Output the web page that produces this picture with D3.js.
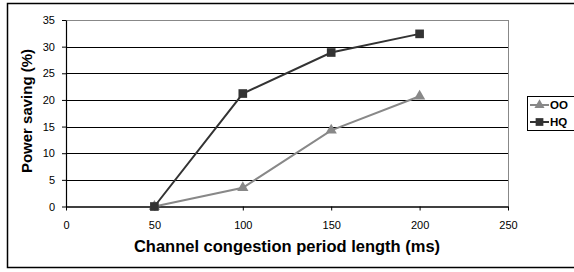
<!DOCTYPE html>
<html>
<head>
<meta charset="utf-8">
<script src="https://cdn.jsdelivr.net/npm/d3@7"></script>
<style>
  body { margin: 0; background: #fff; }
  svg { display: block; font-family: "Liberation Sans", Arial, sans-serif; }
</style>
</head>
<body>
<div id="container"></div>
<script>
const periods = [50, 100, 150, 200];
const ooValues = [0, 3.5, 14.3, 20.7];
const hqValues = [0, 21.2, 28.9, 32.4];
const xTicks = [0, 50, 100, 150, 200, 250];
const yTicks = [0, 5, 10, 15, 20, 25, 30, 35];

const series = [
    { name: "OO", values: ooValues, color: "#888888", symbol: d3.symbolTriangle, size: 55 },
    { name: "HQ", values: hqValues, color: "#333333", symbol: d3.symbolSquare, size: 75 }
];

const width = 574, height = 272;
const mLeft = 66, mRight = 508, mTop = 20, mBottom = 206.5;

const svg = d3.create("svg")
    .attr("width", width)
    .attr("height", height);

// outer frame
svg.append("rect")
    .attr("x", 7.5).attr("y", 3.5)
    .attr("width", 600).attr("height", 264)
    .attr("fill", "#fff")
    .attr("stroke", "#000")
    .attr("stroke-width", 1.5);

const x = d3.scaleLinear().domain([0, 250]).range([mLeft, mRight]);
const y = d3.scaleLinear().domain([0, 35]).range([mBottom, mTop]);

// grid
svg.append("g")
    .selectAll("line")
    .data(yTicks.filter(d => d > 0))
    .join("line")
    .attr("x1", mLeft).attr("x2", mRight)
    .attr("y1", d => Math.round(y(d)) + 0.5).attr("y2", d => Math.round(y(d)) + 0.5)
    .attr("stroke", d => d === 35 ? "#888" : "#000")
    .attr("stroke-width", 1);

// right border of plot
svg.append("line")
    .attr("x1", mRight + 0.5).attr("x2", mRight + 0.5)
    .attr("y1", mTop).attr("y2", mBottom)
    .attr("stroke", "#888");

const yAxis = svg.append("g")
    .attr("transform", `translate(${mLeft},0)`)
    .call(d3.axisLeft(y).tickValues(yTicks).tickSize(4).tickSizeOuter(0));
yAxis.select(".domain").attr("stroke", "#000").attr("stroke-width", 1.2);
yAxis.selectAll("text").attr("font-size", 11).attr("font-family", "Liberation Sans, Arial, sans-serif").attr("dx", -4).attr("fill", "#000");

const xAxis = svg.append("g")
    .attr("transform", `translate(0,${mBottom})`)
    .call(d3.axisBottom(x).tickValues(xTicks).tickSize(4).tickSizeOuter(0));
xAxis.select(".domain").attr("stroke", "#000").attr("stroke-width", 1.5);
xAxis.selectAll("text").attr("font-size", 11).attr("font-family", "Liberation Sans, Arial, sans-serif").attr("dy", "1.4em").attr("fill", "#000");

// titles
svg.append("text")
    .attr("x", 287).attr("y", 252)
    .attr("text-anchor", "middle")
    .attr("font-size", 16.5).attr("font-weight", "bold")
    .text("Channel congestion period length (ms)");

svg.append("text")
    .attr("transform", `translate(32,111) rotate(-90)`)
    .attr("text-anchor", "middle")
    .attr("font-size", 15).attr("font-weight", "bold")
    .text("Power saving (%)");

// lines + markers
const line = d3.line()
    .x((d, i) => x(periods[i]))
    .y(d => y(d));

series.forEach(s => {
    const g = svg.append("g");
    g.append("path")
        .attr("d", line(s.values))
        .attr("fill", "none")
        .attr("stroke", s.color)
        .attr("stroke-width", 2);
    g.selectAll("path.m")
        .data(s.values)
        .join("path")
        .attr("class", "m")
        .attr("transform", (d, i) => `translate(${x(periods[i])},${y(d)})`)
        .attr("d", d3.symbol(s.symbol, s.size))
        .attr("fill", s.color);
});

// legend
const lg = svg.append("g");
lg.append("rect")
    .attr("x", 527.5).attr("y", 96.5)
    .attr("width", 60).attr("height", 34)
    .attr("fill", "#fff")
    .attr("stroke", "#000");
series.forEach((s, i) => {
    const ly = 105 + i * 17;
    lg.append("line")
        .attr("x1", 530).attr("x2", 549)
        .attr("y1", ly).attr("y2", ly)
        .attr("stroke", s.color).attr("stroke-width", 2);
    lg.append("path")
        .attr("transform", `translate(539.5,${ly})`)
        .attr("d", d3.symbol(s.symbol, s.size * 0.8))
        .attr("fill", s.color);
    lg.append("text")
        .attr("x", 550).attr("y", ly + 4)
        .attr("font-size", 11.5).attr("font-weight", "bold")
        .text(s.name);
});

document.getElementById("container").append(svg.node());
</script>
</body>
</html>
